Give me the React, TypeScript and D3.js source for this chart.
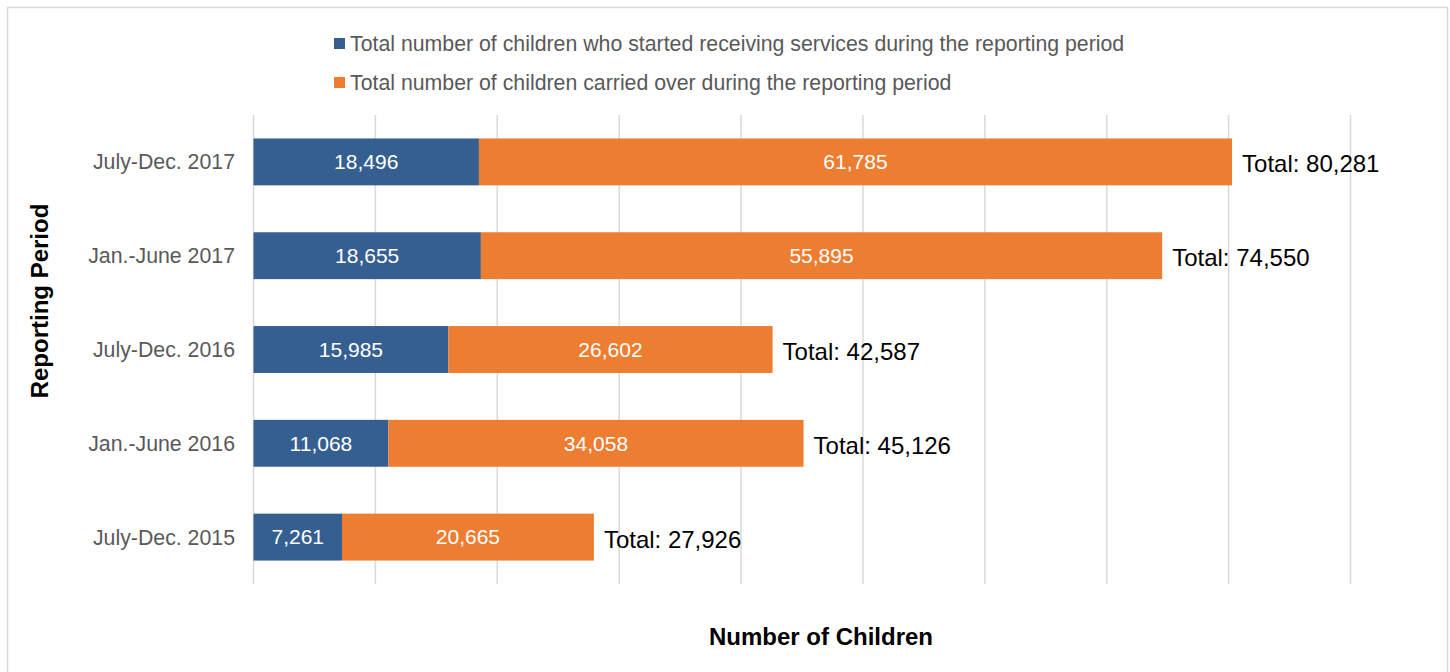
import React from "react";
import * as d3 from "d3";

const categories = ["July-Dec. 2017", "Jan.-June 2017", "July-Dec. 2016", "Jan.-June 2016", "July-Dec. 2015"];
const startedValues = [18496, 18655, 15985, 11068, 7261];
const carriedValues = [61785, 55895, 26602, 34058, 20665];
const totalValues = [80281, 74550, 42587, 45126, 27926];
const seriesNames = [
  "Total number of children who started receiving services during the reporting period",
  "Total number of children carried over during the reporting period",
];
const gridTicks = [0, 10000, 20000, 30000, 40000, 50000, 60000, 70000, 80000, 90000];

const W = 1450;
const H = 672;
const BLUE = "#365f91";
const ORANGE = "#ed7d31";
const FONT = "'Liberation Sans', Arial, sans-serif";

export default function App() {
  const x = d3.scaleLinear().domain([0, 90000]).range([253.5, 1350.5]);
  const y = d3.scaleBand<string>().domain(categories).range([115, 584]).paddingInner(0.5).paddingOuter(0.25);
  const fmt = d3.format(",");
  const colors = [BLUE, ORANGE];

  return (
    <div style={{ position: "absolute", left: 0, top: 0 }}>
      <svg width={W} height={H} style={{ display: "block", fontFamily: FONT }}>
        <rect x={0} y={0} width={W} height={H} fill="#fff" />
        <rect x={7.5} y={7.5} width={1440} height={680} fill="none" stroke="#d9d9d9" strokeWidth={1.5} />
        {/* legend */}
        {seriesNames.map((s, i) => (
          <g key={s} transform={`translate(334, ${38 + i * 39})`}>
            <rect x={0} y={0} width={11} height={11} fill={colors[i]} />
            <text x={16} y={5.5} dy="0.35em" fontSize={21.3} fill="#595959">
              {s}
            </text>
          </g>
        ))}
        {/* grid */}
        {gridTicks.map((t) => (
          <line key={t} x1={x(t)} x2={x(t)} y1={115} y2={584} stroke="#d9d9d9" strokeWidth={1.5} />
        ))}
        {/* bars */}
        {categories.map((c, i) => {
          const y0 = y(c)!;
          const bh = y.bandwidth();
          const cy = y0 + bh / 2;
          const s = startedValues[i];
          const cv = carriedValues[i];
          return (
            <g key={c}>
              <rect x={x(0)} y={y0} width={x(s) - x(0)} height={bh} fill={BLUE} />
              <rect x={x(s)} y={y0} width={x(s + cv) - x(s)} height={bh} fill={ORANGE} />
              <text x={(x(0) + x(s)) / 2} y={cy} dy="0.35em" textAnchor="middle" fontSize={21} fill="#fff">
                {fmt(s)}
              </text>
              <text x={(x(s) + x(s + cv)) / 2} y={cy} dy="0.35em" textAnchor="middle" fontSize={21} fill="#fff">
                {fmt(cv)}
              </text>
              <text x={x(s + cv) + 10} y={cy + 2} dy="0.35em" fontSize={24} fill="#000">
                {`Total: ${fmt(totalValues[i])}`}
              </text>
              <text x={235} y={cy} dy="0.35em" textAnchor="end" fontSize={21.3} fill="#595959">
                {c}
              </text>
            </g>
          );
        })}
        {/* axis titles */}
        <text x={821} y={637} dy="0.35em" textAnchor="middle" fontSize={24} fontWeight="bold" fill="#000">
          Number of Children
        </text>
        <text
          transform={`translate(40, 301) rotate(-90)`}
          dy="0.35em"
          textAnchor="middle"
          fontSize={24}
          fontWeight="bold"
          fill="#000"
        >
          Reporting Period
        </text>
      </svg>
    </div>
  );
}
